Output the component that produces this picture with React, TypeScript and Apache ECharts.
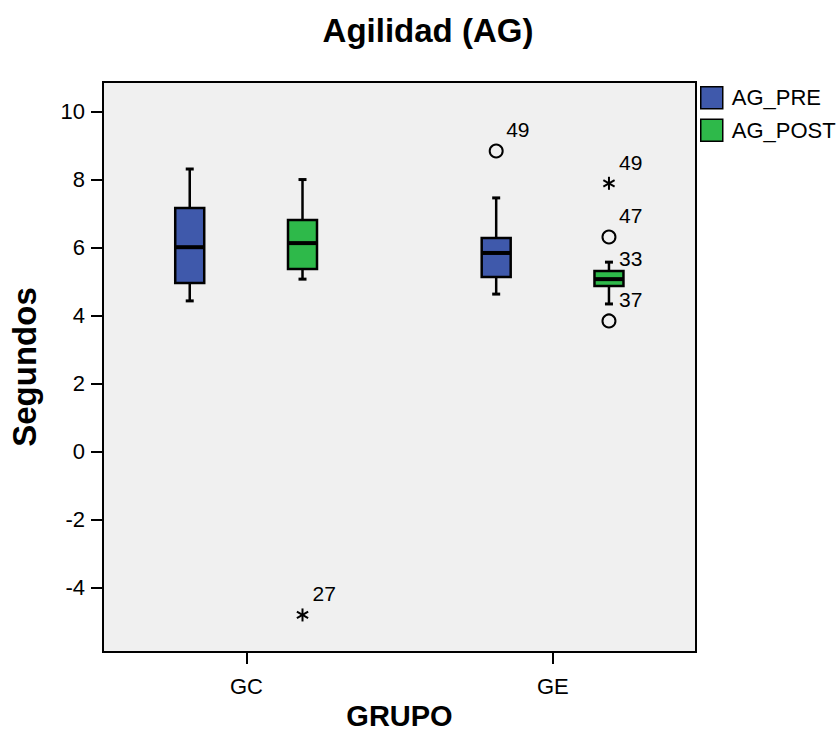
import React, { useEffect, useRef } from "react";
import * as echarts from "echarts";

const categories = ["GC", "GE"];
const seriesNames = ["AG_PRE", "AG_POST"];
const seriesColors = ["#3f59ab", "#2eb94a"];
// [low whisker, Q1, median, Q3, high whisker] per category
const agPre = [
  [4.43, 4.96, 6.01, 7.16, 8.31],
  [4.63, 5.13, 5.84, 6.28, 7.46],
];
const agPost = [
  [5.07, 5.37, 6.13, 6.81, 8.0],
  [4.34, 4.87, 5.07, 5.31, 5.57],
];
// [category index, series index, value, case label, marker]
const outliers: [number, number, number, string, string][] = [
  [0, 1, -4.81, "27", "star"],
  [1, 0, 8.84, "49", "circle"],
  [1, 1, 7.89, "49", "star"],
  [1, 1, 6.31, "47", "circle"],
  [1, 1, 5.07, "33", "none"],
  [1, 1, 3.84, "37", "circle"],
];
const yTicks = [-4, -2, 0, 2, 4, 6, 8, 10];
const xTicks = [1, 2];

const FONT = "'Liberation Sans', Arial, Helvetica, sans-serif";
const OFFSETS = [-0.185, 0.183];

function makeBoxRender(seriesIdx: number) {
  return (params: any, api: any) => {
    const x = api.value(0) + OFFSETS[seriesIdx];
    const vals = [1, 2, 3, 4, 5].map((i) => api.value(i));
    const pts = vals.map((v) => api.coord([x, v]));
    const cx = pts[0][0];
    const hw = 14.5;
    const cap = 4;
    const black = { stroke: "#000", lineWidth: 2.5 };
    return {
      type: "group",
      children: [
        { type: "line", shape: { x1: cx, y1: pts[0][1], x2: cx, y2: pts[1][1] }, style: black },
        { type: "line", shape: { x1: cx, y1: pts[3][1], x2: cx, y2: pts[4][1] }, style: black },
        { type: "line", shape: { x1: cx - cap, y1: pts[0][1], x2: cx + cap, y2: pts[0][1] }, style: { stroke: "#000", lineWidth: 3 } },
        { type: "line", shape: { x1: cx - cap, y1: pts[4][1], x2: cx + cap, y2: pts[4][1] }, style: { stroke: "#000", lineWidth: 3 } },
        {
          type: "rect",
          shape: { x: cx - hw, y: pts[3][1], width: hw * 2, height: pts[1][1] - pts[3][1] },
          style: { fill: seriesColors[seriesIdx], stroke: "#000", lineWidth: 2.5 },
        },
        { type: "line", shape: { x1: cx - hw, y1: pts[2][1], x2: cx + hw, y2: pts[2][1] }, style: { stroke: "#000", lineWidth: 4 } },
      ],
    };
  };
}

function renderOutlier(params: any, api: any) {
  const cat = api.value(0);
  const s = api.value(1);
  const v = api.value(2);
  const item = outliers[params.dataIndex];
  const p = api.coord([cat + OFFSETS[s], v]);
  const children: any[] = [];
  if (item[4] === "circle") {
    children.push({ type: "circle", shape: { cx: p[0], cy: p[1], r: 6.5 }, style: { fill: "none", stroke: "#000", lineWidth: 2 } });
  } else if (item[4] === "star") {
    const r = 6.5;
    for (let k = 0; k < 3; k++) {
      const a = Math.PI / 2 + (k * Math.PI) / 3;
      children.push({
        type: "line",
        shape: { x1: p[0] - r * Math.cos(a), y1: p[1] - r * Math.sin(a), x2: p[0] + r * Math.cos(a), y2: p[1] + r * Math.sin(a) },
        style: { stroke: "#000", lineWidth: 2 },
      });
    }
  }
  children.push({
    type: "text",
    x: p[0] + 10,
    y: p[1] - 21,
    style: { text: item[3], fill: "#000", font: `21px ${FONT}`, textAlign: "left", textVerticalAlign: "middle" },
  });
  return { type: "group", children };
}

export default function App() {
  const ref = useRef<HTMLDivElement>(null);
  useEffect(() => {
    if (!ref.current) return;
    document.body.style.margin = "0";
    const chart = echarts.init(ref.current, undefined, { renderer: "svg" });
    const preData = agPre.map((r, i) => [i + 1, ...r]);
    const postData = agPost.map((r, i) => [i + 1, ...r]);
    const outData = outliers.map((o) => [o[0] + 1, o[1], o[2]]);
    chart.setOption({
      animation: false,
      backgroundColor: "#fff",
      textStyle: { fontFamily: FONT },
      title: {
        text: "Agilidad (AG)",
        left: 423,
        textAlign: "center",
        top: 9,
        textStyle: { fontSize: 33, fontWeight: "bold", color: "#000", fontFamily: FONT },
      },
      legend: {
        data: seriesNames,
        orient: "vertical",
        left: 700,
        top: 86,
        itemWidth: 22,
        itemHeight: 22,
        itemGap: 9,
        icon: "rect",
        padding: 0,
        itemStyle: { borderColor: "#000", borderWidth: 1.5 },
        textStyle: { fontSize: 22, color: "#000", fontFamily: FONT, padding: [0, 0, 0, 4] },
      },
      grid: {
        left: 103,
        right: 144,
        top: 82,
        bottom: 79,
        outerBoundsMode: "none",
        containLabel: false,
        show: true,
        backgroundColor: "#f0f0f0",
        borderColor: "#000",
        borderWidth: 2,
      },
      xAxis: {
        type: "value",
        min: 0.532,
        max: 2.467,
        name: "GRUPO",
        nameLocation: "middle",
        nameGap: 47,
        nameTextStyle: { fontSize: 29, fontWeight: "bold", color: "#000", fontFamily: FONT },
        axisLine: { show: true, onZero: false, lineStyle: { color: "#000", width: 2 } },
        axisTick: { show: true, customValues: xTicks, length: 12, lineStyle: { color: "#000", width: 2 } },
        axisLabel: {
          customValues: xTicks,
          formatter: (v: number) => categories[Math.round(v) - 1] ?? "",
          fontSize: 22,
          color: "#000",
          margin: 23,
          fontFamily: FONT,
        },
        splitLine: { show: false },
      },
      yAxis: {
        type: "value",
        min: -5.9,
        max: 10.87,
        name: "Segundos",
        nameLocation: "middle",
        nameGap: 62,
        nameTextStyle: { fontSize: 33, fontWeight: "bold", color: "#000", fontFamily: FONT },
        axisLine: { show: true, onZero: false, lineStyle: { color: "#000", width: 2 } },
        axisTick: { show: true, customValues: yTicks, length: 12, lineStyle: { color: "#000", width: 2 } },
        axisLabel: { customValues: yTicks, fontSize: 22, color: "#000", margin: 18, fontFamily: FONT },
        splitLine: { show: false },
      },
      series: [
        {
          name: "AG_PRE",
          type: "custom",
          renderItem: makeBoxRender(0),
          itemStyle: { color: seriesColors[0] },
          data: preData,
          encode: { x: 0, y: [1, 2, 3, 4, 5] },
        },
        {
          name: "AG_POST",
          type: "custom",
          renderItem: makeBoxRender(1),
          itemStyle: { color: seriesColors[1] },
          data: postData,
          encode: { x: 0, y: [1, 2, 3, 4, 5] },
        },
        {
          name: "Outliers",
          type: "custom",
          renderItem: renderOutlier,
          data: outData,
          encode: { x: 0, y: 2 },
        },
      ],
    });
    return () => chart.dispose();
  }, []);
  return <div ref={ref} style={{ width: 840, height: 731 }} />;
}
